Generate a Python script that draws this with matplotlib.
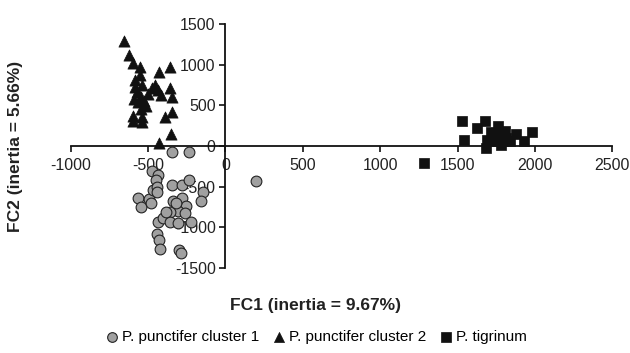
import matplotlib

matplotlib.use("Agg")
import matplotlib.pyplot as plt  # noqa: E402

plt.rcParams["font.family"] = ["Liberation Sans", "DejaVu Sans"]
plt.rcParams["axes.unicode_minus"] = False

# P. punctifer cluster 1 (grey circles)
c1_x = [-347, -234, 199, -473, -435, -448, -347, -277, -234, -146, -159, -566,
        -493, -543, -478, -465, -440, -443, -337, -279, -254, -309, -360, -259,
        -435, -402, -360, -309, -221, -443, -428, -423, -297, -284, -385, -322]
c1_y = [-75, -75, -435, -311, -352, -423, -477, -477, -423, -572, -671, -634,
        -655, -746, -705, -547, -506, -568, -671, -634, -738, -796, -808, -829,
        -932, -891, -932, -945, -932, -1086, -1160, -1264, -1285, -1314, -816, -705]

# P. punctifer cluster 2 (triangles)
c2_x = [-657, -624, -599, -553, -428, -360, -581, -553, -586, -541, -473, -435,
        -418, -360, -342, -591, -548, -523, -511, -548, -599, -594, -536, -536,
        -390, -347, -352, -428, -498, -573, -566, -453]
c2_y = [1285, 1119, 1015, 974, 912, 974, 808, 870, 725, 746, 717, 684,
        622, 717, 601, 580, 601, 559, 497, 456, 373, 311, 352, 290,
        352, 414, 145, 41, 643, 663, 539, 746]

# P. tigrinum (squares)
c3_x = [1527, 1540, 1623, 1678, 1690, 1683, 1761, 1766, 1791, 1779, 1804, 1879,
        1841, 1930, 1980, 1728, 1280, 1716, 1816]
c3_y = [303, 70, 215, 303, 70, -21, 249, 153, 62, 12, 186, 153,
        62, 62, 166, 62, -215, 166, 104]

labels = ["P. punctifer cluster 1", "P. punctifer cluster 2", "P. tigrinum"]

fig = plt.figure(figsize=(6.3, 3.53), dpi=100)
ax = fig.add_axes([0.112, 0.241, 0.860, 0.691])

ax.scatter(c1_x, c1_y, s=60, marker="o", facecolor="#a0a0a0",
           edgecolor="#222222", linewidth=0.8, label=labels[0], zorder=3)
ax.scatter(c2_x, c2_y, s=65, marker="^", facecolor="#111111",
           edgecolor="#111111", linewidth=0.5, label=labels[1], zorder=3)
ax.scatter(c3_x, c3_y, s=60, marker="s", facecolor="#111111",
           edgecolor="#111111", linewidth=0.5, label=labels[2], zorder=3)

ax.set_xlim(-1000, 2500)
ax.set_ylim(-1500, 1500)
ax.set_xticks(range(-1000, 2501, 500))
ax.set_yticks(range(-1500, 1501, 500))

ax.spines["left"].set_position(("data", 0))
ax.spines["bottom"].set_position(("data", 0))
ax.spines["top"].set_visible(False)
ax.spines["right"].set_visible(False)
for sp in ("left", "bottom"):
    ax.spines[sp].set_linewidth(1.3)
    ax.spines[sp].set_color("#111111")
ax.tick_params(axis="both", labelsize=11.5, length=4, width=1.2,
               color="#111111", labelcolor="#222222")
ax.tick_params(axis="x", pad=5)
ax.tick_params(axis="y", pad=3)

fig.text(0.5, 0.135, "FC1 (inertia = 9.67%)", ha="center", va="center",
         fontsize=12.5, fontweight="bold", color="#222222")
fig.text(0.024, 0.585, "FC2 (inertia = 5.66%)", ha="center", va="center",
         rotation=90, fontsize=12.5, fontweight="bold", color="#222222")

fig.legend(loc="center", bbox_to_anchor=(0.5, 0.045), ncol=3, frameon=False,
           fontsize=11, handletextpad=0.05, columnspacing=0.7,
           markerscale=0.9, borderaxespad=0, handlelength=1.2)

fig.savefig("out.png", dpi=100)
plt.close(fig)
